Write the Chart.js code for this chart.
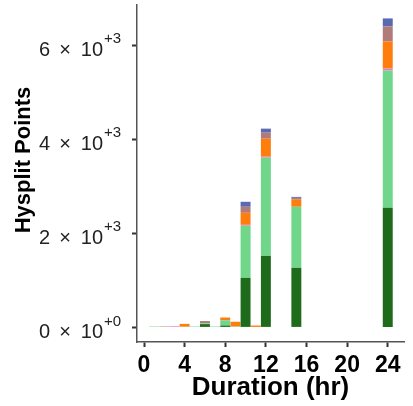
<!DOCTYPE html>
<html>
<head>
<meta charset="utf-8">
<script src="https://cdn.jsdelivr.net/npm/chart.js@4"></script>
<style>
  body { margin: 0; background: #fff; }
  #wrap { width: 413px; height: 406px; position: relative; }
</style>
</head>
<body>
<div id="wrap"><canvas id="myChart"></canvas></div>
<script>
// Durations (hr) and the stacked point counts at each one
const durations = [1, 2, 3, 4, 5, 6, 7, 8, 9, 10, 11, 12, 15, 24];
const darkGreen = [0, 0, 0, 0, 0, 70, 0, 40, 0, 1053, 0, 1521, 1266, 2543];
const lightGreen = [20, 0, 0, 15, 20, 15, 20, 110, 20, 1107, 0, 2085, 1298, 2915];
const pink = [0, 0, 25, 0, 0, 0, 0, 0, 0, 20, 0, 21, 0, 43];
const orange = [0, 0, 0, 60, 0, 0, 0, 60, 100, 255, 40, 383, 149, 575];
const rosy = [0, 20, 0, 0, 0, 50, 0, 0, 0, 128, 0, 128, 40, 319];
const blue = [0, 0, 0, 0, 0, 0, 0, 0, 0, 106, 0, 85, 20, 170];

const xTicks = [0, 4, 8, 12, 16, 20, 24];
const yTicks = [0, 2000, 4000, 6000];

const FONT = '"Liberation Sans", Arial, Helvetica, sans-serif';

const series = [
    { name: 'darkGreen', values: darkGreen, color: '#1f6b1c' },
    { name: 'lightGreen', values: lightGreen, color: '#6fd68a' },
    { name: 'pink', values: pink, color: '#e07dc4' },
    { name: 'orange', values: orange, color: '#ff7d0d' },
    { name: 'rosy', values: rosy, color: '#b07c7a' },
    { name: 'blue', values: blue, color: '#5b68b2' },
];

const datasets = series.map((s) => ({
    label: s.name,
    data: durations.map((d, i) => ({ x: d, y: s.values[i] })),
    backgroundColor: s.color,
    borderWidth: 0,
    barPercentage: 0.98,
    categoryPercentage: 1,
}));

// y labels in "a x 10^+b" form, plus the rotated axis title
const sciLabels = {
    id: 'sciLabels',
    afterDraw(chart) {
        const ctx = chart.ctx;
        const y = chart.scales.y;
        ctx.save();
        ctx.fillStyle = '#222';
        ctx.textBaseline = 'middle';
        yTicks.forEach((v) => {
            const py = y.getPixelForValue(v);
            const exp = v === 0 ? 0 : Math.floor(Math.log10(v));
            const mant = v === 0 ? 0 : Math.round(v / Math.pow(10, exp));
            ctx.font = '20px ' + FONT;
            ctx.textAlign = 'right';
            ctx.fillText(String(mant), 50, py + 5);
            ctx.textAlign = 'center';
            ctx.fillText('\u00d7', 65, py + 5);
            ctx.textAlign = 'right';
            ctx.fillText('10', 103, py + 5);
            ctx.font = '15px ' + FONT;
            ctx.textAlign = 'left';
            ctx.fillText('+' + exp, 104, py - 6);
        });
        ctx.translate(24, 160);
        ctx.rotate(-Math.PI / 2);
        ctx.font = 'bold 22px ' + FONT;
        ctx.fillStyle = '#000';
        ctx.textAlign = 'center';
        ctx.fillText('Hysplit Points', 0, 0);
        ctx.restore();
    }
};

new Chart(document.getElementById('myChart'), {
    type: 'bar',
    data: { datasets: datasets },
    options: {
        responsive: true,
        maintainAspectRatio: false,
        animation: false,
        layout: { padding: { top: 5, right: 9, left: 0, bottom: 0 } },
        plugins: {
            legend: { display: false },
            tooltip: { enabled: false },
        },
        scales: {
            x: {
                type: 'linear',
                stacked: true,
                offset: false,
                min: -0.69,
                max: 25.6,
                afterBuildTicks: (scale) => { scale.ticks = xTicks.map((v) => ({ value: v })); },
                afterFit: (scale) => { scale.height = 64; },
                grid: { offset: false, drawOnChartArea: false, drawTicks: true, tickLength: 5, tickWidth: 2, tickColor: '#333' },
                border: { display: true, color: '#555', width: 1.5 },
                ticks: {
                    color: '#000',
                    padding: 5,
                    maxRotation: 0,
                    font: { family: FONT, size: 23, weight: 'bold' },
                    callback: (v) => String(v),
                },
                title: {
                    display: true,
                    text: 'Duration (hr)',
                    color: '#000',
                    font: { family: FONT, size: 26, weight: 'bold' },
                    padding: { top: 0, bottom: 3 },
                },
            },
            y: {
                stacked: true,
                min: -310,
                max: 6850,
                afterBuildTicks: (scale) => { scale.ticks = yTicks.map((v) => ({ value: v })); },
                afterFit: (scale) => { scale.width = 137; },
                grid: { drawOnChartArea: false, drawTicks: true, tickLength: 5, tickWidth: 2, tickColor: '#333' },
                border: { display: true, color: '#555', width: 1.5 },
                ticks: { display: false },
            },
        },
    },
    plugins: [sciLabels],
});
</script>
</body>
</html>
